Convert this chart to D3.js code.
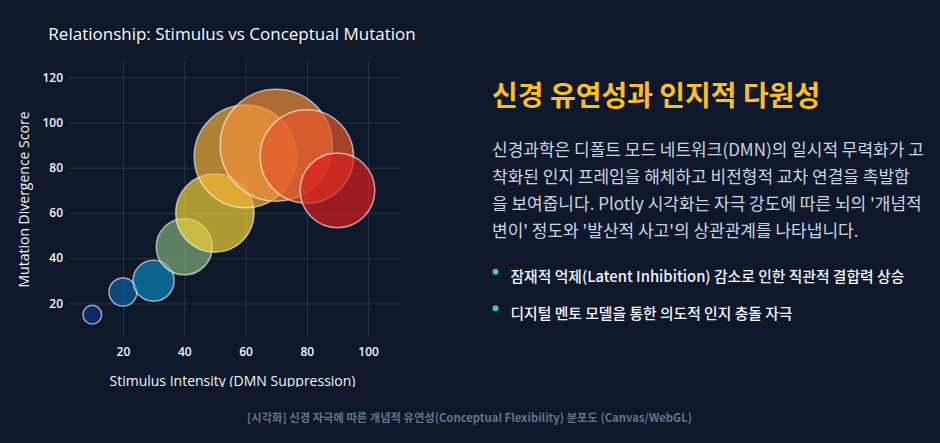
<!DOCTYPE html>
<html>
<head>
<meta charset="utf-8">
<script src="https://cdn.jsdelivr.net/npm/d3@7"></script>
<style>
  html, body { margin: 0; padding: 0; background: #0f172a; }
  svg { display: block; }
  .plot-font { font-family: "Open Sans", "DejaVu Sans", sans-serif; }
  .kr { font-family: "Noto Sans CJK KR", "Noto Sans", sans-serif; }
</style>
</head>
<body>
<div id="page"></div>
<script>
///// Data

let stimulus = [10, 20, 30, 40, 50, 60, 70, 80, 90],
    mutation = [15, 25, 30, 45, 60, 85, 90, 85, 70],
    bubbleSize = [10, 15, 22, 30, 42, 55, 60, 50, 40];

let xTicks = [20, 40, 60, 80, 100],
    yTicks = [20, 40, 60, 80, 100, 120];

// Plotly "Portland" colour stops
let portland = ["rgb(12,51,131)", "rgb(10,136,186)", "rgb(242,211,56)", "rgb(242,143,56)", "rgb(217,30,30)"];

let chartTitle = "Relationship: Stimulus vs Conceptual Mutation",
    xTitle = "Stimulus Intensity (DMN Suppression)",
    yTitle = "Mutation Divergence Score";

let panelTitle = "신경 유연성과 인지적 다원성",
    bodyLines = [
        "신경과학은 디폴트 모드 네트워크(DMN)의 일시적 무력화가 고",
        "착화된 인지 프레임을 해체하고 비전형적 교차 연결을 촉발함",
        "을 보여줍니다. Plotly 시각화는 자극 강도에 따른 뇌의 '개념적",
        "변이' 정도와 '발산적 사고'의 상관관계를 나타냅니다."
    ],
    bullets = [
        "잠재적 억제(Latent Inhibition) 감소로 인한 직관적 결합력 상승",
        "디지털 멘토 모델을 통한 의도적 인지 충돌 자극"
    ],
    caption = "[시각화] 신경 자극에 따른 개념적 유연성(Conceptual Flexibility) 분포도 (Canvas/WebGL)";

///// Layout

let W = 940, H = 443;
let plot = { left: 69, right: 400, top: 62, bottom: 337 };

let svg = d3.select("#page").append("svg")
    .attr("width", W)
    .attr("height", H);

// the chart box is cut off just under the x axis title
svg.append("clipPath").attr("id", "chart-clip")
    .append("rect").attr("x", 0).attr("y", 0).attr("width", 470).attr("height", 387);

let chart = svg.append("g")
    .attr("class", "plot-font")
    .attr("clip-path", "url(#chart-clip)");

// scales
let x = d3.scaleLinear().domain([2.4, 110.4]).range([plot.left, plot.right]);
let y = d3.scaleLinear().domain([5.1, 126.8]).range([plot.bottom, plot.top]);
let r = d3.scaleLinear().domain([0, 60]).range([0, 56]);
let color = d3.scaleLinear()
    .domain(d3.range(portland.length).map(i => 10 + i * 80 / (portland.length - 1)))
    .range(portland);

// grid
chart.append("g")
    .attr("transform", "translate(0," + plot.bottom + ")")
    .call(d3.axisBottom(x).tickValues(xTicks).tickSize(-(plot.bottom - plot.top)).tickFormat(""))
    .call(g => g.select(".domain").remove())
    .call(g => g.selectAll("line").attr("stroke", "#2b3446").attr("stroke-width", 1));

chart.append("g")
    .attr("transform", "translate(" + plot.left + ",0)")
    .call(d3.axisLeft(y).tickValues(yTicks).tickSize(-(plot.right - plot.left)).tickFormat(""))
    .call(g => g.select(".domain").remove())
    .call(g => g.selectAll("line").attr("stroke", "#2b3446").attr("stroke-width", 1));

// tick labels
chart.append("g")
    .attr("transform", "translate(0," + plot.bottom + ")")
    .call(d3.axisBottom(x).tickValues(xTicks).tickSize(0).tickPadding(10))
    .call(g => g.select(".domain").remove())
    .call(g => g.selectAll("text")
        .attr("fill", "#f1f5f9")
        .style("font-family", "'Open Sans', sans-serif")
        .style("font-weight", "600")
        .style("font-size", "12px"));

chart.append("g")
    .attr("transform", "translate(" + plot.left + ",0)")
    .call(d3.axisLeft(y).tickValues(yTicks).tickSize(0).tickPadding(6))
    .call(g => g.select(".domain").remove())
    .call(g => g.selectAll("text")
        .attr("fill", "#f1f5f9")
        .style("font-family", "'Open Sans', sans-serif")
        .style("font-weight", "600")
        .style("font-size", "12px"));

// bubbles
chart.append("g")
    .selectAll("circle")
    .data(stimulus)
    .join("circle")
    .attr("cx", (d, i) => x(stimulus[i]))
    .attr("cy", (d, i) => y(mutation[i]))
    .attr("r", (d, i) => r(bubbleSize[i]))
    .attr("fill", (d, i) => color(stimulus[i]))
    .attr("fill-opacity", 0.7)
    .attr("stroke", "#ffffff")
    .attr("stroke-opacity", 0.6)
    .attr("stroke-width", 1.5);

// titles
chart.append("text")
    .attr("x", 232)
    .attr("y", 39.5)
    .attr("text-anchor", "middle")
    .attr("fill", "#f8fafc")
    .style("font-size", "17px")
    .text(chartTitle);

chart.append("text")
    .attr("x", (plot.left + plot.right) / 2 - 2)
    .attr("y", 386)
    .attr("text-anchor", "middle")
    .attr("fill", "#f1f5f9")
    .style("font-size", "14px")
    .text(xTitle);

chart.append("text")
    .attr("transform", "translate(29," + (plot.top + plot.bottom) / 2 + ") rotate(-90)")
    .attr("text-anchor", "middle")
    .attr("fill", "#f1f5f9")
    .style("font-size", "14px")
    .text(yTitle);

///// Right panel

let panel = svg.append("g").attr("class", "kr");

panel.append("text")
    .attr("x", 492)
    .attr("y", 106)
    .attr("fill", "#fbbf24")
    .style("font-size", "28px")
    .style("font-weight", "700")
    .text(panelTitle);

panel.selectAll("text.body")
    .data(bodyLines)
    .join("text")
    .attr("class", "body")
    .attr("x", 492)
    .attr("y", (d, i) => 155.8 + i * 27.2)
    .attr("fill", "#cbd5e1")
    .style("font-size", "17px")
    .text(d => d);

panel.selectAll("circle.dot")
    .data(bullets)
    .join("circle")
    .attr("class", "dot")
    .attr("cx", 495.5)
    .attr("cy", (d, i) => 271.7 + i * 36.6)
    .attr("r", 3)
    .attr("fill", "#34d399");

panel.selectAll("text.bullet")
    .data(bullets)
    .join("text")
    .attr("class", "bullet")
    .attr("x", 510.5)
    .attr("y", (d, i) => 282.3 + i * 36.6)
    .attr("fill", "#f1f5f9")
    .style("font-size", "14.8px")
    .style("font-weight", "500")
    .text(d => d);

///// Caption

svg.append("text")
    .attr("class", "kr")
    .attr("x", 469.5)
    .attr("y", 422.4)
    .attr("text-anchor", "middle")
    .attr("fill", "#64748b")
    .style("font-size", "11.3px")
    .style("font-weight", "700")
    .text(caption);
</script>
</body>
</html>
